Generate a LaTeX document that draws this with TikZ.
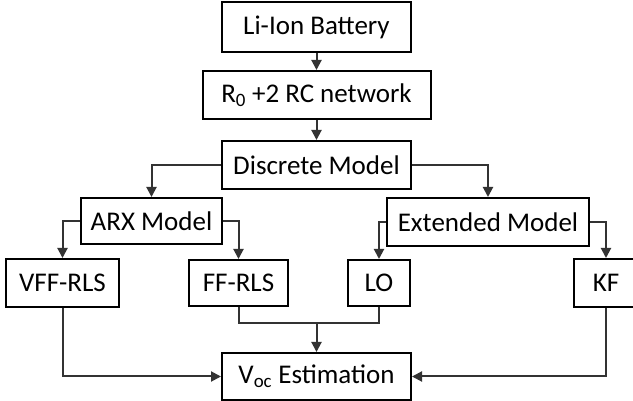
\documentclass[tikz,border=0pt]{standalone}
\usepackage{fontspec}
\setmainfont{Carlito}
\usetikzlibrary{arrows.meta}
\begin{document}
\begin{tikzpicture}[x=1pt, y=-1pt,
        box/.style={draw, line width=2pt, inner sep=0pt, minimum height=48pt, font=\fontsize{27}{31}\selectfont},
        link/.style={line width=2pt, draw=black!80},
        arr/.style={link, -{Triangle[length=10pt, width=10pt]}}]
        \useasboundingbox (0,0) rectangle (633,401);

        % Draw the model chain
        \node[box, minimum width=189pt, minimum height=50pt] (battery) at (316.5,27) {Li-Ion Battery};
        \node[box, minimum width=228pt] (rcnet) at (316.5,95) {R\textsubscript{0} +2 RC network};
        \node[box, minimum width=189pt] (discrete) at (316.5,165) {Discrete Model};
        \node[box, minimum width=141pt, minimum height=46pt] (arx) at (151.5,221) {ARX Model};
        \node[box, minimum width=202pt] (ext) at (488,222) {Extended Model};

        % Draw the estimators
        \node[box, minimum width=113pt] (vff) at (62.5,283) {VFF-RLS};
        \node[box, minimum width=99pt, minimum height=46pt] (ffrls) at (238.5,283) {FF-RLS};
        \node[box, minimum width=62pt, minimum height=46pt] (lo) at (379,283) {LO};
        \node[box, minimum width=64pt] (kf) at (606,283) {KF};
        \node[box, minimum width=189pt, minimum height=47pt] (voc) at (316.5,376.5) {V\textsubscript{oc} Estimation};

        % Connect the blocks
        \draw[arr] (battery.south) -- (rcnet.north);
        \draw[arr] (rcnet.south) -- (discrete.north);
        \draw[arr] (discrete.west) -| (arx.north);
        \draw[arr] (discrete.east) -| (ext.north);
        \draw[arr] (arx.west) -| (vff.north);
        \draw[arr] (arx.east) -| (ffrls.north);
        \draw[arr] (ext.west) -| (lo.north);
        \draw[arr] (ext.east) -| (kf.north);

        % Collect the estimates
        \coordinate (merge) at (316.5,323);
        \draw[link] (ffrls.south) |- (merge) -| (lo.south);
        \draw[arr] (merge) -- (voc.north);
        \draw[arr] (vff.south) |- (voc.west);
        \draw[arr] (kf.south) |- (voc.east);
\end{tikzpicture}
\end{document}
